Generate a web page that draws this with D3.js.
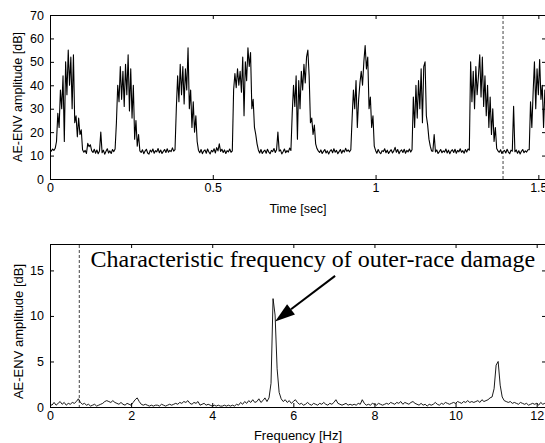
<!DOCTYPE html>
<html>
<head>
<meta charset="utf-8">
<script src="https://cdn.jsdelivr.net/npm/d3@7"></script>
<style>
  html, body { margin: 0; padding: 0; background: #fff; }
  svg { display: block; }
  .tick text { font-family: "Liberation Sans", Arial, sans-serif; font-size: 12.5px; fill: #000; }
  .tick line { stroke: #000; }
</style>
</head>
<body>
<svg id="chart" width="545" height="443"></svg>
<script>
// ---------- DATA ----------
// AE envelope amplitude [dB], sampled every timeStep seconds
const timeStep = 0.004;
const aeEnvDb = [
  12.6, 11.9, 12.8, 12.2, 13.1, 16, 28, 22, 38, 30,
  44, 16, 50, 36, 55, 40, 52, 30, 53, 24,
  27, 18, 26, 19, 21, 12.5, 11.4, 12.2, 10.9, 15.2,
  13.8, 14.6, 12.1, 11.3, 12.7, 11.0, 12.4, 10.8, 11.9, 20.0,
  11.2, 12.3, 10.6, 11.8, 12.9, 11.1, 12.0, 10.9, 12.6, 11.7,
  12.8, 24, 40, 33, 48, 34, 46, 31, 49, 36,
  53, 29, 47, 26, 40, 17, 25, 14, 19, 12,
  11.3, 12.5, 10.8, 11.9, 12.7, 11.1, 10.6, 12.3, 11.5, 12.8,
  11.0, 12.1, 11.6, 13.0, 11.2, 12.4, 10.9, 11.8, 12.6, 11.3,
  12.9, 11.4, 12.2, 11.7, 13.3, 11.9, 12.5, 30, 44, 33,
  49, 36, 48, 32, 47, 38, 56, 30, 38, 22,
  33, 20, 27, 16, 12.3, 11.2, 12.6, 10.8, 11.9, 12.4,
  11.0, 12.8, 11.5, 10.7, 12.2, 11.6, 12.9, 11.1, 13.4, 12.0,
  15.0, 11.8, 12.7, 11.3, 12.4, 10.9, 12.1, 11.6, 12.8, 11.4,
  12, 38, 45, 39, 47, 40, 46, 37, 52, 27,
  50, 42, 56, 48, 54, 30, 34, 22, 19, 15,
  12.4, 11.1, 12.6, 10.9, 11.8, 12.3, 11.0, 12.7, 11.5, 10.8,
  12.2, 11.7, 13.0, 11.3, 12.5, 20.0, 11.9, 12.4, 10.7, 11.6,
  12.8, 11.2, 12.1, 11.5, 13.2, 12.2, 28, 40, 31, 44,
  17, 42, 30, 46, 38, 49, 41, 52, 55, 44,
  24, 26, 19, 23, 15, 13, 12, 11.3, 12.4, 10.9,
  11.8, 12.6, 11.1, 12.0, 10.7, 11.9, 12.5, 11.2, 12.9, 11.4,
  12.2, 10.8, 11.7, 12.6, 11.0, 12.3, 11.5, 13.1, 11.8, 12.4,
  11.6, 12.5, 26, 38, 30, 42, 22, 34, 41, 46,
  40, 50, 57, 47, 52, 30, 35, 22, 27, 14,
  12.2, 11.0, 12.6, 11.4, 10.8, 12.1, 11.7, 12.9, 11.2, 12.3,
  10.9, 11.8, 12.5, 11.1, 12.0, 13.5, 11.4, 12.6, 10.8, 11.9,
  12.4, 11.3, 12.7, 11.0, 12.2, 11.6, 12.8, 11.5, 12.5, 35,
  22, 40, 26, 42, 30, 47, 24, 48, 50, 27,
  23, 17, 14, 12, 11.8, 19, 11.5, 12.4, 10.9, 11.7,
  12.6, 11.2, 12.0, 11.5, 12.8, 11.1, 12.3, 10.8, 11.9, 12.5,
  11.3, 12.7, 11.0, 12.2, 11.6, 12.9, 11.4, 12.1, 11.0, 12.6,
  11.5, 12.8, 12.3, 50, 33, 46, 30, 48, 36, 44,
  53, 35, 52, 31, 44, 27, 40, 22, 35, 19,
  30, 16, 22, 13, 12, 11.4, 12.5, 10.9, 11.8, 12.2,
  11.1, 12.7, 11.5, 10.8, 12.3, 11.9, 31, 11.6, 12.4, 11.0,
  12.1, 10.7, 11.8, 12.6, 11.2, 12.0, 11.5, 12.5, 12.5, 33,
  22, 37, 50, 30, 47, 36, 51, 34, 40, 22,
  38, 30
];

// AE envelope spectrum [dB], sampled every freqStep Hz
const freqStep = 0.05;
const spectrumDb = [
  0.3, 0.2, 0.5, 0.2, 0.4, 0.6, 0.3, 0.5, 0.2, 0.4,
  0.3, 0.5, 0.4, 0.6, 0.9, 0.5, 0.3, 0.4, 0.2, 0.3,
  0.1, 0.2, 0.3, 0.1, 0.2, 0.3, 0.4, 0.6, 0.7, 0.6,
  0.5, 0.7, 0.5, 0.4, 0.3, 0.5, 0.3, 0.2, 0.4, 0.3,
  0.2, 0.5, 0.8, 1.0, 0.6, 0.3, 0.2, 0.3, 0.2, 0.1,
  0.2, 0.1, 0.2, 0.2, 0.1, 0.3, 0.2, 0.1, 0.2, 0.3,
  0.2, 0.3, 0.4, 0.3, 0.5, 0.4, 0.6, 0.5, 0.7, 0.4,
  0.3, 0.5, 0.4, 0.6, 0.2, 0.3, 0.4, 0.2, 0.3, 0.2,
  0.1, 0.2, 0.1, 0.2, 0.1, 0.1, 0.2, 0.1, 0.2, 0.1,
  0.2, 0.1, 0.3, 0.2, 0.5, 0.3, 0.6, 0.4, 0.7, 0.5,
  0.8, 0.5, 0.6, 0.9, 0.5, 0.7, 1.0, 0.6, 1.0, 2.6,
  11.9, 10.1, 4.2, 1.6, 0.9, 0.6, 0.8, 0.5, 0.7, 0.4,
  0.6, 0.8, 0.5, 0.3, 0.4, 0.2, 0.3, 0.5, 0.3, 0.2,
  0.4, 0.3, 0.2, 0.4, 0.3, 0.5, 0.3, 0.2, 0.4, 0.3,
  0.5, 0.8, 0.4, 0.3, 0.2, 0.3, 0.4, 0.2, 0.3, 0.2,
  0.3, 0.2, 0.4, 0.3, 0.8, 0.4, 0.2, 0.3, 0.2, 0.4,
  0.3, 0.2, 0.4, 0.3, 0.2, 0.3, 0.4, 0.3, 0.5, 0.4,
  0.3, 0.5, 0.4, 0.6, 0.3, 0.5, 0.4, 0.3, 0.5, 0.6,
  0.4, 0.3, 0.2, 0.4, 0.2, 0.3, 0.1, 0.3, 0.2, 0.3,
  0.5, 0.3, 0.2, 0.4, 0.3, 0.5, 0.4, 0.3, 0.4, 0.5,
  0.4, 0.6, 0.5, 0.4, 0.6, 0.5, 0.7, 0.5, 0.6, 0.5,
  0.6, 0.7, 0.5, 0.8, 0.6, 0.7, 0.8, 1.0, 1.1, 2.0,
  4.6, 5.0, 2.4, 1.1, 0.7, 0.6, 0.5, 0.6, 0.4, 0.5,
  0.4, 0.3, 0.5, 0.4, 0.3, 0.4, 0.2, 0.3, 0.4, 0.3,
  0.4, 0.2, 0.5, 0.3, 0.4, 0.3
];

const timeTicks = [0, 0.5, 1, 1.5];
const ampTicks = [0, 10, 20, 30, 40, 50, 60, 70];
const freqTicks = [0, 2, 4, 6, 8, 10, 12];
const specTicks = [0, 5, 10, 15];
const timeDomain = [0, 1.5235];
const ampDomain = [0, 70];
const freqDomain = [0, 12.23];
const specDomain = [0, 17.9];
const timeMarker = 1.39;     // dashed line, top panel
const freqMarker = 0.71;     // dashed line, bottom panel
const annotationText = "Characteristic frequency of outer-race damage";
const arrowTail = [7.03, 14.4];  // [Hz, dB]
const arrowTip = [5.55, 9.4];    // [Hz, dB]
const yLabel = "AE-ENV amplitude [dB]";
const timeLabel = "Time [sec]";
const freqLabel = "Frequency [Hz]";

// ---------- DRAW ----------
const svg = d3.select("#chart");
svg.append("rect").attr("width", 545).attr("height", 443).attr("fill", "#fff");

const FONT = '"Liberation Sans", Arial, sans-serif';

function panel(opt) {
  const x = d3.scaleLinear().domain(opt.xDomain).range([opt.left, opt.right]);
  const y = d3.scaleLinear().domain(opt.yDomain).range([opt.bottom, opt.top]);
  const g = svg.append("g");
  const clipId = opt.id + "-clip";
  svg.append("defs").append("clipPath").attr("id", clipId)
    .append("rect").attr("x", opt.left).attr("y", opt.top)
    .attr("width", opt.right - opt.left + 1).attr("height", opt.bottom - opt.top + 1);

  // axes with inward ticks
  g.append("g").attr("transform", `translate(0,${opt.bottom})`)
    .call(d3.axisBottom(x).tickValues(opt.xTicks).tickSize(-4).tickPadding(opt.xPad).tickFormat(d3.format("")))
    .call(a => a.select(".domain").remove());
  g.append("g").attr("transform", `translate(0,${opt.top})`)
    .call(d3.axisTop(x).tickValues(opt.xTicks).tickSize(-4).tickFormat(""))
    .call(a => a.select(".domain").remove());
  g.append("g").attr("transform", `translate(${opt.left},0)`)
    .call(d3.axisLeft(y).tickValues(opt.yTicks).tickSize(-4).tickPadding(6).tickFormat(d3.format("")))
    .call(a => a.select(".domain").remove());
  g.append("g").attr("transform", `translate(${opt.right},0)`)
    .call(d3.axisRight(y).tickValues(opt.yTicks).tickSize(-4).tickFormat(""))
    .call(a => a.select(".domain").remove());

  // box
  g.append("rect")
    .attr("x", opt.left + 0.5).attr("y", opt.top + 0.5)
    .attr("width", opt.right - opt.left).attr("height", opt.bottom - opt.top)
    .attr("fill", "none").attr("stroke", "#000").attr("stroke-width", 1);

  // dashed marker
  g.append("line")
    .attr("x1", x(opt.marker) + 0.5).attr("x2", x(opt.marker) + 0.5)
    .attr("y1", opt.top + 1).attr("y2", opt.bottom)
    .attr("stroke", "#444").attr("stroke-width", 1).attr("stroke-dasharray", "3,2");

  // data line
  g.append("path")
    .datum(opt.values)
    .attr("clip-path", `url(#${clipId})`)
    .attr("fill", "none").attr("stroke", "#000").attr("stroke-width", opt.lineWidth)
    .attr("stroke-linejoin", "round")
    .attr("d", d3.line().x((d, i) => x(i * opt.step)).y(d => y(d)));

  // labels
  g.append("text")
    .attr("transform", `translate(${opt.yLabelX},${(opt.top + opt.bottom) / 2 + opt.yLabelShift}) rotate(-90)`)
    .attr("text-anchor", "middle")
    .style("font-family", FONT).style("font-size", opt.labelSize + "px")
    .text(yLabel);
  g.append("text")
    .attr("x", (opt.left + opt.right) / 2).attr("y", opt.xLabelY)
    .attr("text-anchor", "middle")
    .style("font-family", FONT).style("font-size", opt.labelSize + "px")
    .text(opt.xLabel);

  return { x, y, g };
}

panel({
  id: "top", left: 50, right: 546, top: 15, bottom: 179,
  xDomain: timeDomain, yDomain: ampDomain, xTicks: timeTicks, yTicks: ampTicks,
  xPad: 4.5, values: aeEnvDb, step: timeStep, marker: timeMarker, lineWidth: 1.1,
  yLabelX: 22, yLabelShift: 0, labelSize: 12.5, xLabel: timeLabel, xLabelY: 213
});

const bottomPanel = panel({
  id: "bot", left: 50, right: 546, top: 244, bottom: 407,
  xDomain: freqDomain, yDomain: specDomain, xTicks: freqTicks, yTicks: specTicks,
  xPad: 4, values: spectrumDb, step: freqStep, marker: freqMarker, lineWidth: 0.9,
  yLabelX: 22.5, yLabelShift: 6, labelSize: 13, xLabel: freqLabel, xLabelY: 440
});

// annotation
const bx = bottomPanel.x, by = bottomPanel.y;
svg.append("text")
  .attr("x", 90.5).attr("y", 266.5)
  .style("font-family", '"Liberation Serif", "Times New Roman", serif')
  .style("font-size", "24px")
  .text(annotationText);

const tx = bx(arrowTail[0]), ty = by(arrowTail[1]);
const hx = bx(arrowTip[0]), hy = by(arrowTip[1]);
const ang = Math.atan2(hy - ty, hx - tx);
const headLen = 20, headHalf = 6.5;
const baseX = hx - headLen * Math.cos(ang), baseY = hy - headLen * Math.sin(ang);
svg.append("line")
  .attr("x1", tx).attr("y1", ty).attr("x2", baseX).attr("y2", baseY)
  .attr("stroke", "#000").attr("stroke-width", 2);
svg.append("path")
  .attr("d", d3.line()([
    [hx, hy],
    [baseX + headHalf * Math.sin(ang), baseY - headHalf * Math.cos(ang)],
    [baseX - headHalf * Math.sin(ang), baseY + headHalf * Math.cos(ang)]
  ]) + "Z")
  .attr("fill", "#000");
</script>
</body>
</html>
